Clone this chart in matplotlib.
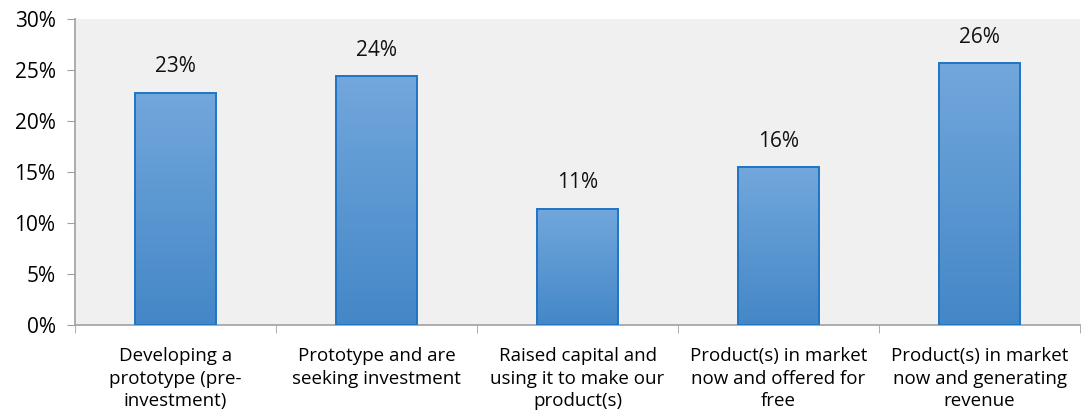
import matplotlib
matplotlib.use("Agg")
import matplotlib.pyplot as plt
import numpy as np
from matplotlib.colors import LinearSegmentedColormap

categories = ["Developing a\nprototype (pre-\ninvestment)",
              "Prototype and are\nseeking investment",
              "Raised capital and\nusing it to make our\nproduct(s)",
              "Product(s) in market\nnow and offered for\nfree",
              "Product(s) in market\nnow and generating\nrevenue"]
values = [22.8, 24.4, 11.4, 15.5, 25.7]
yticks = [0, 5, 10, 15, 20, 25, 30]

plt.rcParams['font.family'] = ['Open Sans', 'DejaVu Sans']

fig = plt.figure(figsize=(10.82, 4.16), dpi=100)
ax = fig.add_axes([0.0693, 0.219, 0.929, 0.735])
ax.set_facecolor("#f0f0f0")

x = np.arange(len(values))
bars = ax.bar(x, values, width=0.40, facecolor="none", edgecolor="#1f74c4",
              linewidth=1.4, zorder=3)

# vertical gradient inside each bar, darker at the bottom
grad = LinearSegmentedColormap.from_list("g", ["#4487c7", "#72a7dc"])
gimg = np.linspace(0, 1, 256).reshape(-1, 1)
for b in bars:
    bx, by = b.get_x(), b.get_y()
    w, h = b.get_width(), b.get_height()
    im = ax.imshow(gimg, cmap=grad, origin="lower", aspect="auto",
                   extent=[bx, bx + w, by, by + h], zorder=2)
    im.set_clip_path(b)

for xi, v in zip(x, values):
    ax.text(xi, v + 1.5, f"{v:.0f}%", ha="center", va="bottom", fontsize=15,
            color="#111111")

ax.set_xlim(-0.5, len(values) - 0.5)
ax.set_ylim(0, 30)
ax.set_yticks(yticks)
ax.set_yticklabels([f"{t}%" for t in yticks], fontsize=15)
ax.set_xticks(x)
ax.set_xticklabels(categories, fontsize=13.5, linespacing=1.33)
ax.tick_params(axis="x", length=0, pad=16)
ax.set_xticks(np.arange(len(values) + 1) - 0.5, minor=True)
ax.tick_params(axis="x", which="minor", length=6, color="#a0a0a0")
ax.tick_params(axis="y", length=6, color="#a0a0a0", pad=8)

for s in ["top", "right"]:
    ax.spines[s].set_visible(False)
for s in ["left", "bottom"]:
    ax.spines[s].set_color("#a0a0a0")
    ax.spines[s].set_linewidth(1.2)

fig.savefig("out.png", dpi=100)
